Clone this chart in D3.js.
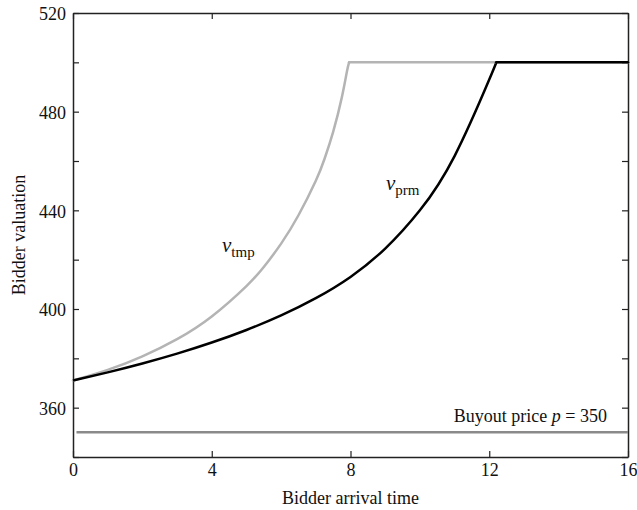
<!DOCTYPE html>
<html>
<head>
<meta charset="utf-8">
<script src="https://cdn.jsdelivr.net/npm/d3@7"></script>
<style>
  html, body { margin: 0; padding: 0; background: #fff; }
  svg text { font-family: "Liberation Serif", "Times New Roman", serif; fill: #111; }
</style>
</head>
<body>
<svg id="chart" width="637" height="510"></svg>
<script>
// ---- data ----
const xTickValues = [0, 4, 8, 12, 16];
const yTickValues = [340, 360, 380, 400, 420, 440, 460, 480, 500, 520];
const yTickLabels = [360, 400, 440, 480, 520];

// v_prm: rising part, then flat at the cap
const prmTime  = [0, 1, 2, 3, 4, 5, 6, 7, 8, 9, 10, 11, 12, 12.2];
const prmValue = [371, 374.3, 377.9, 381.9, 386.4, 391.5, 397.4, 404.4, 413, 424.5, 440, 462, 493, 500];
const prmFlatTime  = [12.2, 16];
const prmFlatValue = [500, 500];

// v_tmp: rising part, then flat at the cap
const tmpTime  = [0, 1, 2, 3, 4, 5, 5.5, 6, 6.5, 7, 7.25, 7.5, 7.75, 7.9, 7.96];
const tmpValue = [371, 375.3, 380.8, 387.8, 397, 409.3, 417, 426.5, 438, 452, 460.8, 471.8, 485.8, 496.5, 500];
const tmpFlatTime  = [7.96, 16];
const tmpFlatValue = [500, 500];

const buyoutPrice = 350;

// ---- layout ----
const svg = d3.select("#chart");
const mLeft = 73, mRight = 628, mTop = 13, mBottom = 457;

const x = d3.scaleLinear().domain([0, 16]).range([mLeft, mRight]);
const y = d3.scaleLinear().domain([340, 520]).range([mBottom, mTop]);

const axisColor = "#222";

// frame + ticks
const gBottom = svg.append("g").attr("transform", `translate(0,${mBottom})`)
  .call(d3.axisBottom(x).tickValues(xTickValues).tickSizeInner(-6).tickSizeOuter(0).tickPadding(6));
const gTop = svg.append("g").attr("transform", `translate(0,${mTop})`)
  .call(d3.axisTop(x).tickValues(xTickValues).tickSizeInner(-6).tickSizeOuter(0).tickFormat(""));
const gLeft = svg.append("g").attr("transform", `translate(${mLeft},0)`)
  .call(d3.axisLeft(y).tickValues(yTickValues).tickSizeInner(-6).tickSizeOuter(0).tickPadding(7)
    .tickFormat(d => yTickLabels.includes(d) ? d : ""));
const gRight = svg.append("g").attr("transform", `translate(${mRight},0)`)
  .call(d3.axisRight(y).tickValues(yTickValues).tickSizeInner(-6).tickSizeOuter(0).tickFormat(""));

[gBottom, gTop, gLeft, gRight].forEach(g => {
  g.select(".domain").attr("stroke", axisColor).attr("stroke-width", 1.5);
  g.selectAll(".tick line").attr("stroke", axisColor).attr("stroke-width", 1.2);
  g.selectAll(".tick text").attr("font-size", 18).attr("fill", "#111")
    .style("font-family", "'Liberation Serif', serif");
});
gLeft.selectAll(".tick text").attr("dy", "0.38em");

// lines
const curve = d3.line().x(d => x(d[0])).y(d => y(d[1])).curve(d3.curveNatural);
const straight = d3.line().x(d => x(d[0])).y(d => y(d[1]));
const pts = (ts, vs) => ts.map((t, i) => [t, vs[i]]);

// buyout price
svg.append("path")
  .attr("d", straight([[0.1, buyoutPrice], [16, buyoutPrice]]))
  .attr("fill", "none").attr("stroke", "#8a8a8a").attr("stroke-width", 2.5);

// v_tmp (gray)
const grayStyle = p => p.attr("fill", "none").attr("stroke", "#b4b4b4").attr("stroke-width", 2.5)
  .attr("stroke-linecap", "round");
svg.append("path").attr("d", curve(pts(tmpTime, tmpValue))).call(grayStyle);
svg.append("path").attr("d", straight(pts(tmpFlatTime, tmpFlatValue))).call(grayStyle);

// v_prm (black)
const blackStyle = p => p.attr("fill", "none").attr("stroke", "#000").attr("stroke-width", 2.5);
svg.append("path").attr("d", curve(pts(prmTime, prmValue))).call(blackStyle);
svg.append("path").attr("d", straight(pts(prmFlatTime, prmFlatValue))).call(blackStyle)
  .attr("stroke-linecap", "round");

// labels
function subLabel(px, py, main, sub) {
  const t = svg.append("text").attr("x", px).attr("y", py).attr("font-size", 21);
  t.append("tspan").attr("font-style", "italic").text(main);
  t.append("tspan").attr("font-size", 15).attr("dy", 5).text(sub);
}
subLabel(222, 252, "v", "tmp");
subLabel(386, 190, "v", "prm");

const buy = svg.append("text").attr("x", 607).attr("y", 422).attr("text-anchor", "end").attr("font-size", 18);
buy.append("tspan").text("Buyout price ");
buy.append("tspan").attr("font-style", "italic").text("p");
buy.append("tspan").text(" = 350");

// axis titles
svg.append("text").attr("x", (mLeft + mRight) / 2).attr("y", 504)
  .attr("text-anchor", "middle").attr("font-size", 18).text("Bidder arrival time");
svg.append("text").attr("transform", `translate(25,${(mTop + mBottom) / 2}) rotate(-90)`)
  .attr("text-anchor", "middle").attr("font-size", 18).text("Bidder valuation");
</script>
</body>
</html>
